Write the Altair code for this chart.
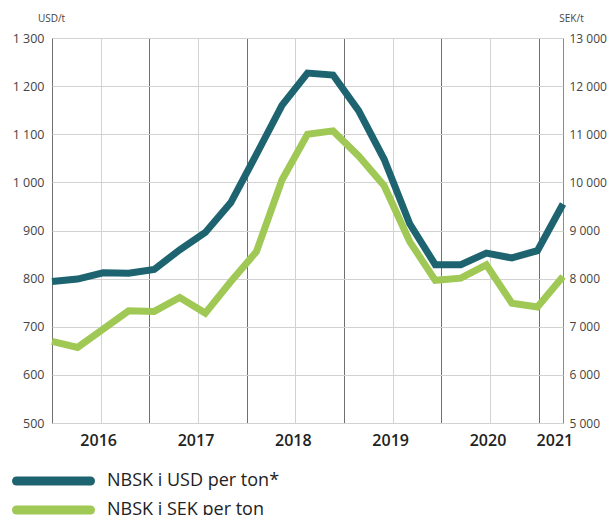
import altair as alt
import pandas as pd

# ---- data ----
years = ["2016", "2017", "2018", "2019", "2020", "2021"]
usd = [794, 799, 812, 811, 819, 860, 896, 958, 1058, 1160, 1227, 1223,
       1149, 1048, 914, 829, 829, 853, 843, 858, 955]
sek = [6695, 6570, 6950, 7330, 7318, 7608, 7284, 7940, 8560, 10050, 11000,
       11070, 10550, 9930, 8770, 7965, 8010, 8286, 7490, 7409, 8044]
usd_ticks = [500, 600, 700, 800, 900, 1000, 1100, 1200, 1300]
sek_ticks = [5000, 6000, 7000, 8000, 9000, 10000, 11000, 12000, 13000]
series = ["NBSK i USD per ton*", "NBSK i SEK per ton"]
colors = ["#1e6470", "#a0c855"]

n_points = len(usd)
n_quarters = 21  # quarter grid intervals drawn on the x axis
unit = (n_points - 1) / n_quarters  # data units per grid quarter

df = pd.DataFrame({"t": list(range(n_points)), "usd": usd, "sek": sek})

grid_vals = [k * unit for k in range(n_quarters + 1)]

year_pos = []
for j, _ in enumerate(years):
    start = 4 * j
    q = min(4, n_quarters - start)
    frac = 0.5 if q == 4 else 0.75
    year_pos.append((start + q * frac) * unit)
ydf = pd.DataFrame({"year": years, "pos": year_pos})

ldf = pd.DataFrame({"series": series})

W, H = 511, 385
FONT = "Open Sans"

x_axis = alt.Axis(
    values=grid_vals, labels=False, ticks=False, domain=False, title=None,
    grid=True,
    gridColor=alt.condition(
        f"round(datum.value / {unit}) % 4 == 0",
        alt.value("#707070"), alt.value("#d2d2d2")),
    gridWidth=1,
)
x_enc = alt.X("t:Q", scale=alt.Scale(domain=[0, n_points - 1], nice=False, zero=False),
              axis=x_axis)

label_expr = "replace(format(datum.value, ','), ',', ' ')"

sek_line = alt.Chart(df).mark_line(
    strokeWidth=7, strokeJoin="miter", strokeCap="butt", color=colors[1]
).encode(
    x=x_enc,
    y=alt.Y("sek:Q", scale=alt.Scale(domain=[5000, 13000], nice=False, zero=False),
            axis=alt.Axis(orient="right", values=sek_ticks, grid=False, domain=False,
                          ticks=False, labelPadding=6, labelFontSize=12,
                          labelColor="#444", labelFont=FONT, labelExpr=label_expr,
                          title="SEK/t", titleAngle=0, titleAlign="center",
                          titleBaseline="middle", titleX=8, titleY=-20,
                          titleFontSize=10, titleFontWeight="normal",
                          titleColor="#444", titleFont=FONT)),
)

usd_line = alt.Chart(df).mark_line(
    strokeWidth=7, strokeJoin="miter", strokeCap="butt", color=colors[0]
).encode(
    x=x_enc,
    y=alt.Y("usd:Q", scale=alt.Scale(domain=[500, 1300], nice=False, zero=False),
            axis=alt.Axis(orient="left", values=usd_ticks, grid=True,
                          gridColor="#d2d2d2", domain=False, ticks=False,
                          labelPadding=8, labelFontSize=12.5, labelColor="#444",
                          labelFont=FONT, labelExpr=label_expr,
                          title="USD/t", titleAngle=0, titleAlign="center",
                          titleBaseline="middle", titleX=-1, titleY=-20,
                          titleFontSize=10, titleFontWeight="normal",
                          titleColor="#444", titleFont=FONT)),
)

year_text = alt.Chart(ydf).mark_text(
    font=FONT, fontSize=16, fontWeight=600, color="#222", baseline="middle",
    align="center", dx=-2
).encode(
    x=alt.X("pos:Q"),
    y=alt.value(H + 18),
    text="year:N",
)

leg_scale = alt.Scale(type="point", domain=series, range=[H + 58, H + 87], padding=0)
color_scale = alt.Scale(domain=series, range=colors)

leg_rule = alt.Chart(ldf).mark_rule(strokeWidth=9, strokeCap="round").encode(
    x=alt.value(-35.5), x2=alt.value(38.5),
    y=alt.Y("series:N", scale=leg_scale, axis=None),
    color=alt.Color("series:N", scale=color_scale, legend=None),
)
leg_text = alt.Chart(ldf).mark_text(
    font=FONT, fontSize=18, color="#222", align="left", baseline="middle"
).encode(
    x=alt.value(55),
    y=alt.Y("series:N", scale=leg_scale, axis=None),
    text="series:N",
)

chart = alt.layer(sek_line, usd_line, year_text, leg_rule, leg_text).resolve_scale(
    y="independent"
).properties(
    width=W, height=H,
    autosize=alt.AutoSizeParams(type="none"),
    padding={"left": 44, "top": 30, "right": 45, "bottom": 92},
).configure_view(stroke="#8a8a8a", strokeWidth=1)

chart.save("out.html", embed_options={"renderer": "svg", "actions": False})
